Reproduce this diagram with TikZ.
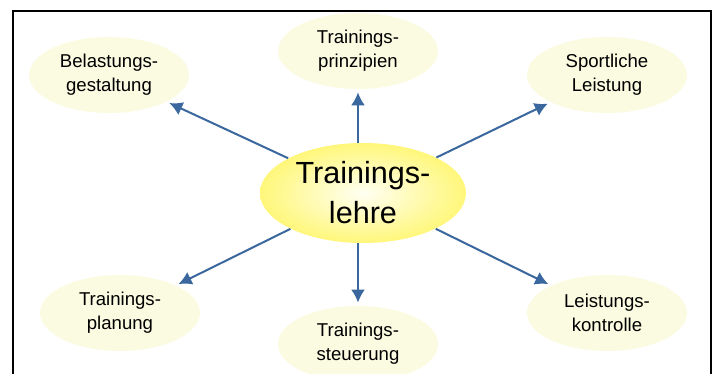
\documentclass[tikz,border=0pt]{standalone}
\usepackage{fontspec}
\setmainfont{Liberation Sans}
\usetikzlibrary{shapes.geometric,arrows.meta}

\definecolor{linkblue}{HTML}{3A679D}
\definecolor{paleyellow}{HTML}{FBFBE2}
\definecolor{coreyellow}{HTML}{FFF77A}

\tikzset{
  topic/.style={ellipse, fill=paleyellow, inner sep=0pt, minimum width=80pt, minimum height=38pt,
    align=center, font=\fontsize{9.3}{12}\selectfont},
  core/.style={ellipse, inner sep=0pt, minimum width=103pt, minimum height=50pt,
    inner color=yellow!5, outer color=coreyellow,
    align=center, font=\fontsize{15.3}{20}\selectfont},
  link/.style={draw=linkblue, line width=1pt, -{Latex[length=6.5pt,width=7pt]}, shorten >=1.5pt}
}

\begin{document}
\begin{tikzpicture}[x=0.5pt, y=-0.5pt]
    % Page
    \useasboundingbox (0,0) rectangle (714,374);
    \fill[white] (0,0) rectangle (714,374);

    % Frame
    \draw[line width=0.8pt] (13,374) |- (711,11) -- (711,374);

    % Centre
    \node[core] (lehre) at (363,193) {Trainings-\\lehre};

    % Topics
    \node[topic] (belastung) at (109,75) {Belastungs-\\gestaltung};
    \node[topic] (prinzipien) at (358,51) {Trainings-\\prinzipien};
    \node[topic] (leistung) at (607,75) {Sportliche\\Leistung};
    \node[topic] (planung) at (120,313) {Trainings-\\planung};
    \node[topic] (steuerung) at (358,344) {Trainings-\\steuerung};
    \node[topic] (kontrolle) at (607,313) {Leistungs-\\kontrolle};

    % Arrows
    \draw[link] (lehre) -- (belastung);
    \draw[link] (lehre.north -| prinzipien) -- (prinzipien);
    \draw[link] (lehre) -- (leistung);
    \draw[link] (lehre) -- (planung);
    \draw[link] (lehre.south -| steuerung) -- (steuerung);
    \draw[link] (lehre) -- (kontrolle);
\end{tikzpicture}
\end{document}
